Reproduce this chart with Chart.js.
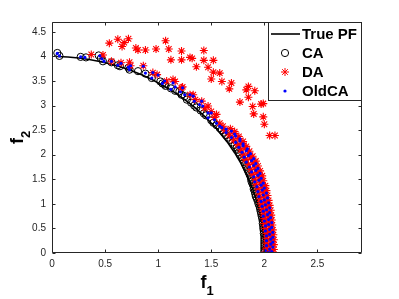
<!DOCTYPE html>
<html>
<head>
<meta charset="utf-8">
<script src="https://cdn.jsdelivr.net/npm/chart.js@4/dist/chart.umd.min.js"></script>
<style>
html,body{margin:0;padding:0;background:#fff;}
#wrap{width:399px;height:299px;}
</style>
</head>
<body>
<div id="wrap"><canvas id="c" width="399" height="299"></canvas></div>
<script>
// ---- data ----
const seriesNames = ['True PF', 'CA', 'DA', 'OldCA'];
const xTicks = [0, 0.5, 1, 1.5, 2, 2.5];
const yTicks = [0, 0.5, 1, 1.5, 2, 2.5, 3, 3.5, 4, 4.5];
const xLabel = ['f', '1'];
const yLabel = ['f', '2'];

const truePF = [[0.05,3.999],[0.15,3.989],[0.25,3.969],[0.35,3.938],[0.45,3.897],[0.55,3.846],[0.65,3.783],[0.75,3.708],[0.85,3.621],[0.95,3.520],[1.05,3.404],[1.15,3.273],[1.25,3.122],[1.35,2.951],[1.45,2.755],[1.55,2.528],[1.65,2.261],[1.72,2.041],[1.78,1.824],[1.84,1.568],[1.89,1.308],[1.93,1.049],[1.96,0.796],[1.98,0.564],[1.992,0.357],[1.998,0.179],[2.0,0]];

const caPoints = [[0.05,4.07],[0.07,4.01],[0.27,3.99],[0.32,3.98],[0.44,4.02],[0.46,3.96],[0.48,3.90],[0.56,3.88],[0.62,3.82],[0.64,3.80],[0.72,3.77],[0.73,3.73],[0.81,3.70],[0.88,3.65],[0.94,3.56],[1.02,3.49],[1.04,3.45],[1.06,3.43],[1.07,3.40],[1.12,3.35],[1.16,3.30],[1.20,3.29],[1.22,3.22],[1.25,3.19],[1.27,3.12],[1.31,3.06],[1.34,3.00],[1.36,2.96],[1.40,2.90],[1.43,2.84],[1.45,2.80],[1.50,2.70],[1.52,2.65],[1.55,2.60],[1.58,2.54],[1.60,2.50],[1.62,2.45],[1.64,2.40],[1.66,2.35],[1.68,2.30],[1.70,2.25],[1.72,2.20],[1.74,2.15],[1.75,2.10],[1.76,2.05],[1.77,2.00],[1.79,1.95],[1.80,1.90],[1.81,1.85],[1.82,1.80],[1.83,1.75],[1.84,1.70],[1.85,1.65],[1.86,1.60],[1.87,1.55],[1.875,1.50],[1.88,1.45],[1.89,1.40],[1.90,1.35],[1.90,1.30],[1.91,1.25],[1.915,1.20],[1.92,1.15],[1.93,1.10],[1.94,1.05],[1.945,1.00],[1.955,0.95],[1.96,0.90],[1.965,0.85],[1.97,0.80],[1.975,0.75],[1.98,0.70],[1.985,0.65],[1.985,0.60],[1.99,0.55],[1.99,0.50],[1.995,0.45],[1.995,0.40],[2.00,0.35],[2.00,0.30],[2.00,0.25],[2.00,0.20],[2.00,0.15],[2.00,0.10],[2.00,0.05],[2.00,0.01]];

const daOutliers = [[0.54,4.27],[0.62,4.35],[0.68,4.28],[0.72,4.36],[0.66,4.20],[0.79,4.17],[0.81,4.13],[0.88,4.13],[0.98,4.15],[1.07,4.32],[1.10,4.15],[1.12,3.93],[1.22,4.11],[1.22,3.93],[1.30,3.98],[1.32,3.96],[1.36,3.79],[1.43,4.12],[1.43,3.92],[1.52,3.92],[1.47,3.78],[1.52,3.68],[1.58,3.66],[1.50,3.54],[1.60,3.49],[1.69,3.46],[1.67,3.34],[1.85,3.39],[1.83,3.32],[1.91,3.30],[1.85,3.17],[1.77,3.07],[1.89,2.98],[1.97,3.03],[1.99,3.04],[1.90,2.83],[1.99,2.77],[2.00,2.62],[2.05,2.39],[2.10,2.39]];

const daNear = [[0.37,4.04],[0.48,4.03],[0.56,3.90],[0.65,3.87],[0.73,3.88],[0.74,3.81],[0.86,3.81],[0.95,3.67],[0.99,3.63],[1.08,3.50],[1.14,3.53],[1.16,3.49],[1.22,3.36],[1.23,3.38],[1.30,3.22],[1.33,3.22],[1.35,3.12],[1.41,3.09],[1.44,2.95],[1.47,2.99],[1.50,2.88],[1.53,2.76],[1.55,2.82],[1.58,2.64],[1.61,2.58],
[1.63,2.50],[1.68,2.53],[1.72,2.47],[1.67,2.40],[1.72,2.43],[1.76,2.37],[1.71,2.30],[1.76,2.33],[1.80,2.27],[1.75,2.20],[1.79,2.23],[1.83,2.17],[1.78,2.10],[1.82,2.13],[1.86,2.07],[1.80,2.00],[1.85,2.03],[1.89,1.97],[1.82,1.90],[1.87,1.93],[1.92,1.87],[1.85,1.80],[1.89,1.83],[1.94,1.77],[1.87,1.70],[1.91,1.73],[1.96,1.67],[1.89,1.60],[1.93,1.63],[1.98,1.57],[1.91,1.50],[1.95,1.53],[1.99,1.47],[1.92,1.40],[1.96,1.43],[2.01,1.37],[1.94,1.30],[1.98,1.33],[2.02,1.27],[1.95,1.20],[1.99,1.23],[2.03,1.17],[1.96,1.10],[2.00,1.13],[2.04,1.07],[1.97,1.00],[2.01,1.03],[2.05,0.97],[1.98,0.90],[2.02,0.93],[2.06,0.87],[1.99,0.80],[2.03,0.83],[2.065,0.77],[2.00,0.70],[2.04,0.73],[2.07,0.67],[2.00,0.60],[2.04,0.63],[2.075,0.57],[2.01,0.50],[2.05,0.53],[2.08,0.47],[2.02,0.40],[2.05,0.43],[2.085,0.37],[2.02,0.30],[2.06,0.33],[2.09,0.27],[2.02,0.20],[2.06,0.23],[2.09,0.17],[2.02,0.10],[2.06,0.13],[2.09,0.07],[2.01,0.02],[2.05,0.04],[2.08,0.01]];

const oldCaPoints = [[0.05,4.06],[0.07,4.01],[0.27,3.99],[0.31,3.98],[0.45,4.01],[0.47,3.95],[0.49,3.90],[0.56,3.90],[0.62,3.82],[0.65,3.86],[0.72,3.78],[0.74,3.81],[0.73,3.73],[0.86,3.80],[0.88,3.66],[0.95,3.67],[0.94,3.56],[1.00,3.62],[1.06,3.50],[1.04,3.45],[1.14,3.46],[1.12,3.33],[1.16,3.38],[1.23,3.36],[1.25,3.22],[1.21,3.28],[1.33,3.19],[1.30,3.22],[1.34,3.09],[1.39,3.02],[1.42,2.99],[1.41,3.09],[1.47,2.85],[1.50,2.85],[1.47,2.75],[1.53,2.71],[1.55,2.64],[1.58,2.58],
[1.60,2.55],[1.64,2.52],[1.64,2.45],[1.69,2.48],[1.72,2.42],[1.69,2.35],[1.73,2.38],[1.77,2.32],[1.73,2.25],[1.77,2.28],[1.80,2.22],[1.76,2.15],[1.80,2.18],[1.84,2.12],[1.79,2.05],[1.83,2.08],[1.87,2.02],[1.81,1.95],[1.85,1.98],[1.90,1.92],[1.83,1.85],[1.88,1.88],[1.92,1.82],[1.86,1.75],[1.90,1.78],[1.94,1.72],[1.88,1.65],[1.92,1.68],[1.96,1.62],[1.90,1.55],[1.94,1.58],[1.97,1.52],[1.91,1.45],[1.95,1.48],[1.99,1.42],[1.93,1.35],[1.97,1.38],[2.00,1.32],[1.94,1.25],[1.98,1.28],[2.02,1.22],[1.95,1.15],[1.99,1.18],[2.03,1.12],[1.97,1.05],[2.00,1.08],[2.04,1.02],[1.98,0.95],[2.01,0.98],[2.05,0.92],[1.99,0.85],[2.02,0.88],[2.05,0.82],[1.99,0.75],[2.03,0.78],[2.06,0.72],[2.00,0.65],[2.04,0.68],[2.07,0.62],[2.01,0.55],[2.04,0.58],[2.07,0.52],[2.01,0.45],[2.05,0.48],[2.08,0.42],[2.02,0.35],[2.05,0.38],[2.08,0.32],[2.02,0.25],[2.06,0.28],[2.08,0.22],[2.02,0.15],[2.06,0.18],[2.08,0.12],[2.01,0.05],[2.05,0.08],[2.07,0.03],[2.00,0.00],[2.04,0.01]];

const toXY = arr => arr.map(p => ({x: p[0], y: p[1]}));

const AXIS_COLOR = '#262626';
const FONT = "'Liberation Sans', Arial, Helvetica, sans-serif";

// box, inward ticks, axis labels, legend
const matlabPlugin = {
  id: 'matlabDecor',
  afterDraw(chart) {
    const ctx = chart.ctx;
    const a = chart.chartArea;
    const xs = chart.scales.x, ys = chart.scales.y;
    ctx.save();
    ctx.strokeStyle = AXIS_COLOR;
    ctx.lineWidth = 1;
    const L = Math.round(a.left) + 0.5, R = Math.round(a.right) - 0.5;
    const T = Math.round(a.top) + 0.5, B = Math.round(a.bottom) - 0.5;
    ctx.beginPath();
    ctx.rect(L, T, R - L, B - T);
    ctx.stroke();
    const tl = 3;
    ctx.beginPath();
    xTicks.forEach(v => {
      const px = Math.round(xs.getPixelForValue(v)) + 0.5;
      ctx.moveTo(px, B); ctx.lineTo(px, B - tl);
      ctx.moveTo(px, T); ctx.lineTo(px, T + tl);
    });
    yTicks.forEach(v => {
      const py = Math.round(ys.getPixelForValue(v)) + 0.5;
      ctx.moveTo(L, py); ctx.lineTo(L + tl, py);
      ctx.moveTo(R, py); ctx.lineTo(R - tl, py);
    });
    ctx.stroke();

    // axis labels
    ctx.fillStyle = '#000';
    ctx.textBaseline = 'alphabetic';
    ctx.textAlign = 'left';
    const cx = (a.left + a.right) / 2;
    ctx.font = 'bold 18px ' + FONT;
    const fw = ctx.measureText(xLabel[0]).width;
    ctx.font = 'bold 13px ' + FONT;
    const sw = ctx.measureText(xLabel[1]).width;
    let x0 = cx - (fw + sw) / 2;
    ctx.font = 'bold 18px ' + FONT;
    ctx.fillText(xLabel[0], x0, 288);
    ctx.font = 'bold 13px ' + FONT;
    ctx.fillText(xLabel[1], x0 + fw, 295);

    const cy = (a.top + a.bottom) / 2;
    ctx.save();
    ctx.translate(23, cy + (fw + sw) / 2);
    ctx.rotate(-Math.PI / 2);
    ctx.font = 'bold 18px ' + FONT;
    ctx.fillText(yLabel[0], 0, 0);
    ctx.font = 'bold 13px ' + FONT;
    ctx.fillText(yLabel[1], fw, 7);
    ctx.restore();

    // legend
    const lx0 = 268, ly0 = Math.round(a.top), lx1 = Math.round(a.right), ly1 = 101;
    ctx.fillStyle = '#fff';
    ctx.fillRect(lx0, ly0, lx1 - lx0, ly1 - ly0);
    ctx.strokeStyle = AXIS_COLOR;
    ctx.lineWidth = 1;
    ctx.strokeRect(lx0 + 0.5, ly0 + 0.5, lx1 - lx0 - 1, ly1 - ly0 - 1);
    const rows = [34, 53, 72, 91];
    const mx = 285;
    ctx.strokeStyle = '#000';
    ctx.lineWidth = 1.6;
    ctx.beginPath(); ctx.moveTo(271, rows[0]); ctx.lineTo(300, rows[0]); ctx.stroke();
    ctx.lineWidth = 1;
    ctx.beginPath(); ctx.arc(mx, rows[1], 3.6, 0, Math.PI * 2); ctx.stroke();
    ctx.strokeStyle = '#ff0000';
    const r = 4, d = r * Math.SQRT1_2;
    ctx.beginPath();
    ctx.moveTo(mx - r, rows[2]); ctx.lineTo(mx + r, rows[2]);
    ctx.moveTo(mx, rows[2] - r); ctx.lineTo(mx, rows[2] + r);
    ctx.moveTo(mx - d, rows[2] - d); ctx.lineTo(mx + d, rows[2] + d);
    ctx.moveTo(mx - d, rows[2] + d); ctx.lineTo(mx + d, rows[2] - d);
    ctx.stroke();
    ctx.fillStyle = '#0000ff';
    ctx.beginPath(); ctx.arc(mx, rows[3], 1.6, 0, Math.PI * 2); ctx.fill();
    ctx.fillStyle = '#000';
    ctx.font = 'bold 15px ' + FONT;
    ctx.textBaseline = 'middle';
    seriesNames.forEach((n, i) => ctx.fillText(n, 302, rows[i] + 1));
    ctx.restore();
  }
};

new Chart(document.getElementById('c'), {
  type: 'scatter',
  data: {
    datasets: [
      { label: seriesNames[0], data: toXY(truePF), showLine: true, borderColor: '#000', backgroundColor: '#000', borderWidth: 1.6, pointRadius: 0, tension: 0, order: 3 },
      { label: seriesNames[1], data: toXY(caPoints), pointStyle: 'circle', pointRadius: 3.6, borderColor: '#000', backgroundColor: 'rgba(0,0,0,0)', borderWidth: 1, order: 2 },
      { label: seriesNames[2], data: toXY(daOutliers.concat(daNear)), pointStyle: 'star', pointRadius: 4, borderColor: '#ff0000', backgroundColor: '#ff0000', borderWidth: 1.1, order: 1 },
      { label: seriesNames[3], data: toXY(oldCaPoints), pointStyle: 'circle', pointRadius: 1.6, borderWidth: 0, borderColor: '#0000ff', backgroundColor: '#0000ff', order: 0 }
    ]
  },
  options: {
    responsive: false,
    animation: false,
    devicePixelRatio: 1,
    layout: { padding: { top: 22, right: 37, left: 0, bottom: 0 } },
    plugins: { legend: { display: false }, tooltip: { enabled: false } },
    scales: {
      x: {
        type: 'linear', min: 0, max: 2.92,
        grid: { display: false, drawTicks: false },
        border: { display: false },
        ticks: { stepSize: 0.5, includeBounds: false, padding: 5, color: AXIS_COLOR, font: { family: FONT, size: 10 }, maxRotation: 0,
          callback: v => String(Math.round(v * 10) / 10) },
        afterFit: s => { s.height = 46; }
      },
      y: {
        type: 'linear', min: 0, max: 4.7,
        grid: { display: false, drawTicks: false },
        border: { display: false },
        ticks: { stepSize: 0.5, includeBounds: false, padding: 6, color: AXIS_COLOR, font: { family: FONT, size: 10 },
          callback: v => String(Math.round(v * 10) / 10) },
        afterFit: s => { s.width = 52; }
      }
    }
  },
  plugins: [matlabPlugin]
});
</script>
</body>
</html>
